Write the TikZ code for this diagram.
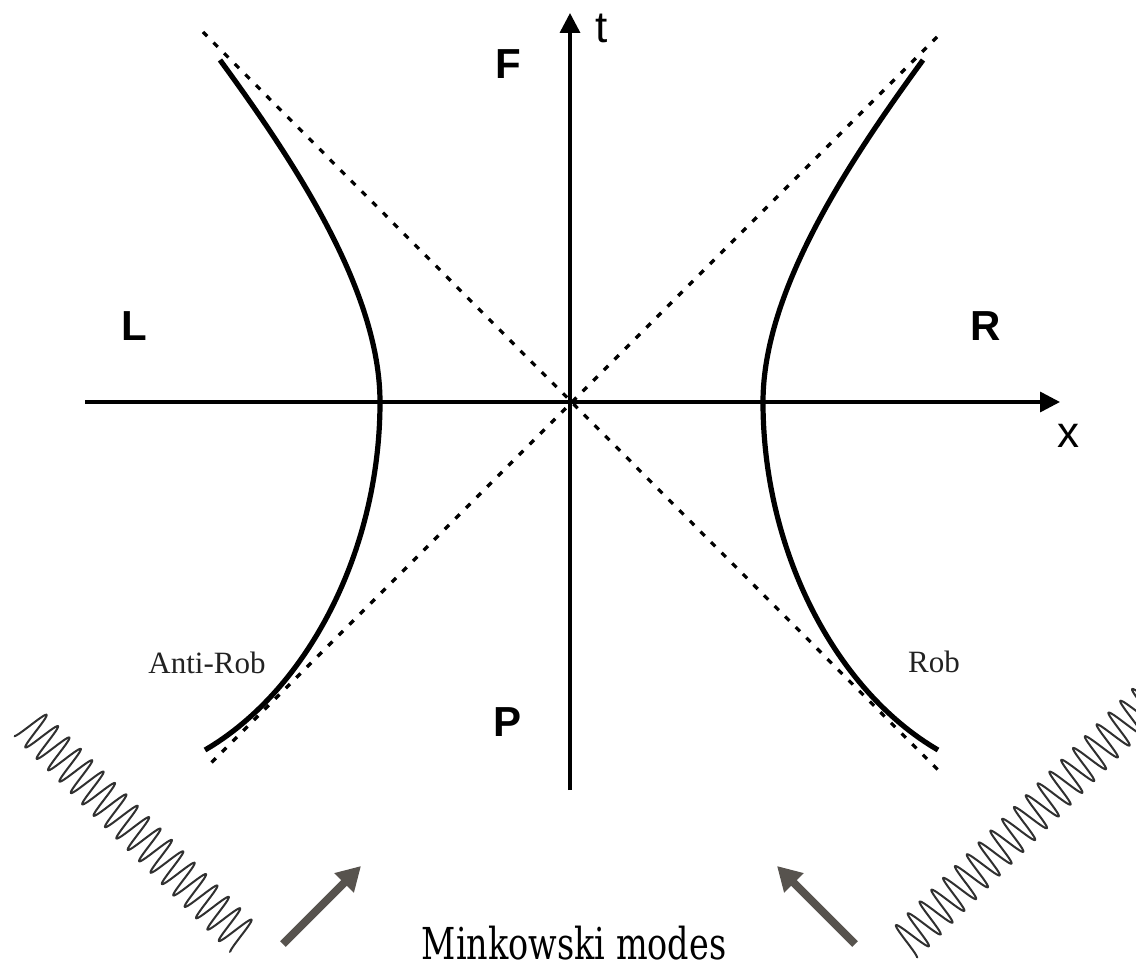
\documentclass[tikz,border=0pt]{standalone}
\usepackage{fontspec}
\usepackage{graphicx}
\setmainfont{Liberation Serif}
\newfontfamily\labsans{Liberation Sans}
\newfontfamily\slabfont{DejaVu Serif}
\usetikzlibrary{arrows.meta}
\definecolor{arrowgray}{HTML}{57534E}
\definecolor{springgray}{HTML}{303030}
\definecolor{textgray}{HTML}{222222}
\begin{document}
\begin{tikzpicture}[x=0.5pt,y=-0.5pt,
  axisline/.style={line width=1.75pt,-{Triangle[length=10pt,width=10pt]}},
  lightcone/.style={line width=1.6pt,dash pattern=on 3pt off 4.5pt},
  worldline/.style={line width=2.6pt},
  region/.style={font=\labsans\bfseries\fontsize{21}{21}\selectfont,inner sep=0pt},
  axlabel/.style={font=\labsans\fontsize{22}{22}\selectfont,inner sep=0pt},
  roblabel/.style={font=\fontsize{15.5}{15.5}\selectfont,text=textgray,inner sep=0pt},
  modearrow/.style={arrowgray,line width=4pt,-{Triangle[length=12pt,width=13pt]}},
  springline/.style={springgray,line width=1pt}]
\useasboundingbox (0,0) rectangle (1136,968);

% axes
\coordinate (O) at (570,402);
\coordinate (tbot) at (570,790);
\coordinate (ttop) at (570,13);
\coordinate (xleft) at (85,402);
\coordinate (xright) at (1060,402);
\draw[axisline] (tbot) -- (ttop);
\draw[axisline] (xleft) -- (xright);

% light cone
\coordinate (nw) at (203,32);
\coordinate (se) at (940,772);
\coordinate (ne) at (937,37);
\coordinate (sw) at (207,767);
\draw[lightcone] (nw) -- (se);
\draw[lightcone] (ne) -- (sw);

% world lines (Rob and Anti-Rob)
\coordinate (rv) at (763,402);
\coordinate (rtop) at (923,60);
\coordinate (rbot) at (938,750);
\coordinate (lv) at (380,402);
\coordinate (ltop) at (220,60);
\coordinate (lbot) at (205,750);
\draw[worldline] (rtop) .. controls (850,160) and (763,290) .. (rv)
  .. controls (763,550) and (835,690) .. (rbot);
\draw[worldline] (ltop) .. controls (293,160) and (380,290) .. (lv)
  .. controls (380,550) and (308,690) .. (lbot);

% labels
\node[region] (F) at (508,64) {F};
\node[region] (L) at (134,326) {L};
\node[region] (R) at (986,326) {R};
\node[region] (P) at (508,722) {P};
\node[axlabel] (tlab) at (602,28) {t};
\node[axlabel] (xlab) at (1068,436) {x};
\node[roblabel] (antirob) at (207,663) {Anti-Rob};
\node[roblabel] (rob) at (934,662) {Rob};
\node[inner sep=0pt,anchor=base] (mink) at (574,959) {\scalebox{0.76}[1]{\slabfont\fontsize{22}{22}\selectfont Minkowski modes}};

% incoming mode arrows
\coordinate (la0) at (283,944);
\coordinate (la1) at (361,866);
\coordinate (ra0) at (855,944);
\coordinate (ra1) at (777,866);
\draw[modearrow] (la0) -- (la1);
\draw[modearrow] (ra0) -- (ra1);

% waves
\begin{scope}
\clip (0,0) rectangle (1136,968);
\draw[springline] plot[domain=0:306,samples=700,variable=\s]
  ({14+0.7071*\s+13.435*(1-cos(22.36*\s))},{736+0.7071*\s-13.435*(1-cos(22.36*\s))});
\draw[springline] plot[domain=0:345,samples=800,variable=\s]
  ({917+0.7071*\s-13.435*(1-cos(21.56*\s))},{958-0.7071*\s-13.435*(1-cos(21.56*\s))});
\end{scope}
\end{tikzpicture}
\end{document}
